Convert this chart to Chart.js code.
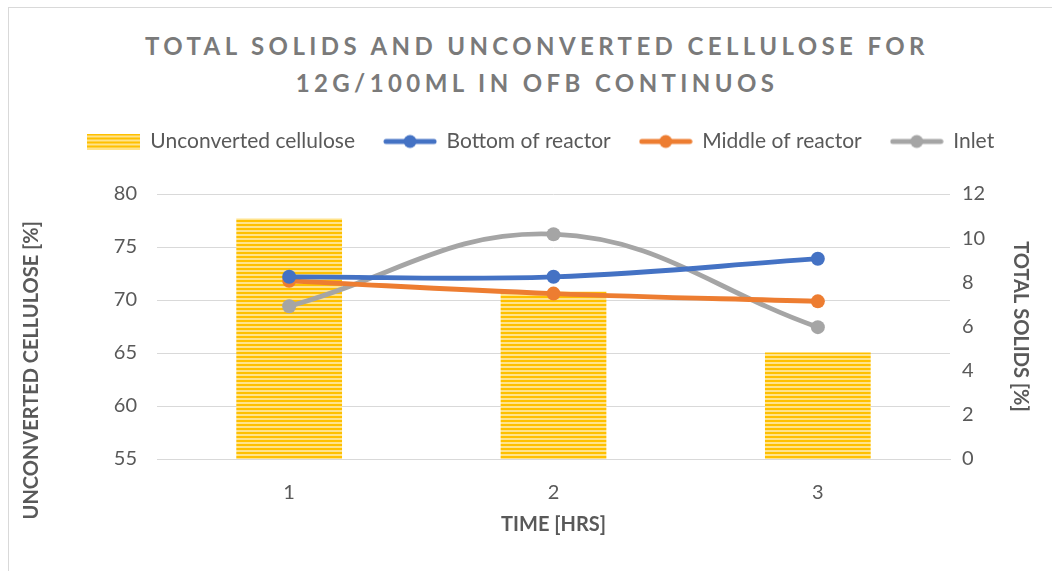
<!DOCTYPE html>
<html>
<head>
<meta charset="utf-8">
<script src="https://cdn.jsdelivr.net/npm/chart.js@4.4.1/dist/chart.umd.min.js"></script>
<style>
body{margin:0;background:#fff;}
#wrap{position:relative;width:1052px;height:571px;overflow:hidden;}
#frame{position:absolute;left:8px;top:7px;width:1100px;height:600px;border:1px solid #d9d9d9;box-sizing:border-box;}
#title{position:absolute;left:0;top:27px;width:1074px;text-align:center;font:bold 24px Lato,"Open Sans",sans-serif;letter-spacing:4.4px;color:#7a7a7a;line-height:37px;}
canvas{position:absolute;left:0;top:0;}
</style>
</head>
<body>
<div id="wrap">
<div id="frame"></div>
<div id="title">TOTAL SOLIDS AND UNCONVERTED CELLULOSE FOR<br>12G/100ML IN OFB CONTINUOS</div>
<canvas id="chart" width="1052" height="571"></canvas>
</div>
<script>
const hours=["1","2","3"];
const cellulose=[77.7,70.8,65.05];
const bottomReactor=[8.25,8.25,9.07];
const middleReactor=[8.07,7.49,7.14];
const inlet=[6.92,10.18,5.97];

const FONT="Lato";
const GREY="#595959";

// striped yellow fill like the excel pattern
function stripes(){
    const c=document.createElement("canvas");
    c.width=4;c.height=4;
    const g=c.getContext("2d");
    g.fillStyle="#FFE38C";g.fillRect(0,0,4,4);
    g.fillStyle="#FFC000";g.fillRect(0,0,4,2);
    return g.createPattern(c,"repeat");
}
const pat=stripes();

function barSwatch(){
    const c=document.createElement("canvas");
    c.width=53;c.height=16;
    const g=c.getContext("2d");
    g.fillStyle=pat;g.fillRect(0,0,53,16);
    return c;
}
function lineSwatch(col){
    const c=document.createElement("canvas");
    c.width=54;c.height=16;
    const g=c.getContext("2d");
    g.strokeStyle=col;g.lineWidth=5;g.lineCap="round";
    g.beginPath();g.moveTo(3,8);g.lineTo(51,8);g.stroke();
    g.fillStyle=col;g.beginPath();g.arc(27,8,6.5,0,Math.PI*2);g.fill();
    return c;
}

function lineSet(label,data,col){
    return {type:"line",label,data,yAxisID:"y1",order:0,
        borderColor:col,backgroundColor:col,borderWidth:4.8,
        pointRadius:7,pointHoverRadius:7,pointBorderWidth:0,
        tension:0.4,icon:lineSwatch(col)};
}

// push the plot down below the legend, nudge legend right
const legendGap={id:"legendGap",
    beforeInit(chart){
        const fit=chart.legend.fit;
        chart.legend.fit=function(){fit.bind(chart.legend)();this.height+=32;};
    },
    afterLayout(chart){chart.legend.left+=15;chart.legend.right+=15;}
};

const ctx=document.getElementById("chart").getContext("2d");
new Chart(ctx,{
    type:"bar",
    data:{
        labels:hours,
        datasets:[
            {label:"Unconverted cellulose",data:cellulose,yAxisID:"y",order:1,
             backgroundColor:pat,borderWidth:0,barPercentage:0.8,categoryPercentage:0.5,icon:barSwatch()},
            lineSet("Bottom of reactor",bottomReactor,"#4472C4"),
            lineSet("Middle of reactor",middleReactor,"#ED7D31"),
            lineSet("Inlet",inlet,"#A5A5A5")
        ]
    },
    plugins:[legendGap],
    options:{
        responsive:false,
        animation:false,
        layout:{padding:{top:102,left:8,right:8,bottom:30}},
        plugins:{
            legend:{position:"top",
                labels:{usePointStyle:true,pointStyleWidth:52,boxHeight:16,padding:29,
                    color:GREY,font:{family:FONT,size:21},
                    generateLabels(chart){
                        return chart.data.datasets.map((d,i)=>({text:d.label,pointStyle:d.icon,
                            fontColor:GREY,lineWidth:0,strokeStyle:"transparent",fillStyle:"transparent",datasetIndex:i}));
                    }}},
            tooltip:{enabled:false}
        },
        scales:{
            x:{offset:true,
               afterFit(s){s.height=82;},
               grid:{display:false,drawTicks:false},
               border:{color:"#d9d9d9"},
               ticks:{color:GREY,font:{family:FONT,size:20},padding:22},
               title:{display:true,text:"TIME [HRS]",color:GREY,font:{family:FONT,size:20,weight:"bold"},padding:{top:0,bottom:4}}},
            y:{position:"left",min:55,max:80,
               afterFit(s){s.width=149;},
               grid:{color:"#d9d9d9",drawTicks:false},
               border:{display:false},
               ticks:{stepSize:5,color:GREY,font:{family:FONT,size:20},padding:20},
               title:{display:true,text:"UNCONVERTED CELLULOSE [%]"+"\u00a0".repeat(18),color:GREY,font:{family:FONT,size:20,weight:"bold"},padding:{top:12,bottom:0}}},
            y1:{position:"right",min:0,max:12,
               afterFit(s){s.width=94;},
               grid:{display:false,drawTicks:false},
               border:{display:false},
               ticks:{stepSize:2,color:GREY,font:{family:FONT,size:20},padding:12},
               title:{display:true,text:"TOTAL SOLIDS [%]",color:GREY,font:{family:FONT,size:20,weight:"bold"},padding:{top:12,bottom:0}}}
        }
    }
});
</script>
</body>
</html>
